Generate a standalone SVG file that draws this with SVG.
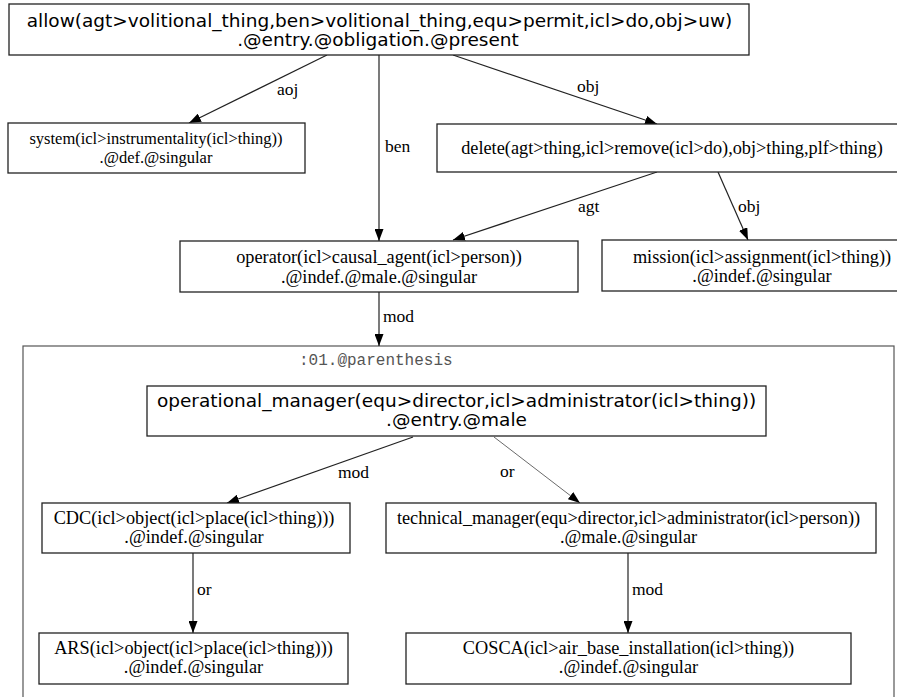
<svg xmlns="http://www.w3.org/2000/svg" width="897" height="697" viewBox="0 0 897 697">
<style>
.box{fill:#fff;stroke:#222;stroke-width:1.3}
.sans{font-family:"DejaVu Sans",sans-serif;font-size:18.5px;fill:#000;text-anchor:middle}
.serif{font-family:"Liberation Serif",serif;font-size:18.3px;fill:#000;text-anchor:middle}
.small{font-size:16.5px}
.el{font-family:"Liberation Serif",serif;font-size:17.5px;fill:#000}
.edge{fill:none;stroke:#222;stroke-width:1.2}
.thin{fill:none;stroke:#444;stroke-width:0.8}
.clab{font-family:"Liberation Mono",monospace;font-size:16px;fill:#555}
</style>
<defs>
<marker id="ah" viewBox="0 0 12 9" refX="12" refY="4.5" markerWidth="12" markerHeight="9" orient="auto" markerUnits="userSpaceOnUse"><path d="M0,0 L12,4.5 L0,9 z" fill="#000"/></marker>
</defs>
<rect width="897" height="697" fill="#fff"/>
<g id="cluster01">
<rect x="23" y="346" width="871" height="380" fill="none" stroke="#555" stroke-width="1.2"/>
<text class="clab" x="299" y="365">:01.@parenthesis</text>
</g>
<g id="edges">
<path class="edge" d="M327,55 L189,123" marker-end="url(#ah)"/>
<text class="el" x="277" y="95">aoj</text>
<path class="edge" d="M379,55 L379,241" marker-end="url(#ah)"/>
<text class="el" x="385" y="152">ben</text>
<path class="edge" d="M453,55 L657,124" marker-end="url(#ah)"/>
<text class="el" x="577" y="92">obj</text>
<path class="edge" d="M657,172 L453,240" marker-end="url(#ah)"/>
<text class="el" x="578" y="212">agt</text>
<path class="edge" d="M718,172 L748,240" marker-end="url(#ah)"/>
<text class="el" x="738" y="212">obj</text>
<path class="edge" d="M379,292 L379,346" marker-end="url(#ah)"/>
<text class="el" x="383" y="322">mod</text>
<path class="edge" d="M413,437 L227,503" marker-end="url(#ah)"/>
<text class="el" x="338" y="478">mod</text>
<path class="thin" d="M494,437 L580,503" marker-end="url(#ah)"/>
<text class="el" x="500" y="477">or</text>
<path class="edge" d="M193,553 L193,633" marker-end="url(#ah)"/>
<text class="el" x="197" y="595">or</text>
<path class="edge" d="M628,553 L628,633" marker-end="url(#ah)"/>
<text class="el" x="632" y="595">mod</text>
</g>
<g id="allow">
<rect class="box" x="9" y="4" width="740" height="51"/>
<text class="sans" x="379.5" y="27">allow(agt&gt;volitional_thing,ben&gt;volitional_thing,equ&gt;permit,icl&gt;do,obj&gt;uw)</text>
<text class="sans" x="378" y="46">.@entry.@obligation.@present</text>
</g>
<g id="system">
<rect class="box" x="8" y="123" width="297" height="50"/>
<text class="serif small" x="156" y="144">system(icl&gt;instrumentality(icl&gt;thing))</text>
<text class="serif small" x="156" y="163">.@def.@singular</text>
</g>
<g id="delete">
<rect class="box" x="437" y="124" width="472" height="48"/>
<text class="serif" x="672" y="154">delete(agt&gt;thing,icl&gt;remove(icl&gt;do),obj&gt;thing,plf&gt;thing)</text>
</g>
<g id="operator">
<rect class="box" x="180" y="241" width="398" height="51"/>
<text class="serif" x="379" y="263">operator(icl&gt;causal_agent(icl&gt;person))</text>
<text class="serif" x="379" y="283">.@indef.@male.@singular</text>
</g>
<g id="mission">
<rect class="box" x="602" y="240" width="320" height="51"/>
<text class="serif" x="762" y="263">mission(icl&gt;assignment(icl&gt;thing))</text>
<text class="serif" x="762" y="282">.@indef.@singular</text>
</g>
<g id="operational_manager">
<rect class="box" x="147" y="386" width="619" height="50"/>
<text class="sans" x="456.5" y="407">operational_manager(equ&gt;director,icl&gt;administrator(icl&gt;thing))</text>
<text class="sans" x="456.5" y="426">.@entry.@male</text>
</g>
<g id="CDC">
<rect class="box" x="42" y="503" width="308" height="50"/>
<text class="serif" x="194" y="524">CDC(icl&gt;object(icl&gt;place(icl&gt;thing)))</text>
<text class="serif" x="194" y="543">.@indef.@singular</text>
</g>
<g id="technical_manager">
<rect class="box" x="386" y="503" width="490" height="50"/>
<text class="serif" x="628.5" y="524">technical_manager(equ&gt;director,icl&gt;administrator(icl&gt;person))</text>
<text class="serif" x="628.5" y="543">.@male.@singular</text>
</g>
<g id="ARS">
<rect class="box" x="39" y="633" width="309" height="51"/>
<text class="serif" x="193.5" y="654">ARS(icl&gt;object(icl&gt;place(icl&gt;thing)))</text>
<text class="serif" x="193.5" y="673">.@indef.@singular</text>
</g>
<g id="COSCA">
<rect class="box" x="406" y="633" width="445" height="51"/>
<text class="serif" x="628.5" y="654">COSCA(icl&gt;air_base_installation(icl&gt;thing))</text>
<text class="serif" x="628.5" y="673">.@indef.@singular</text>
</g>
</svg>
